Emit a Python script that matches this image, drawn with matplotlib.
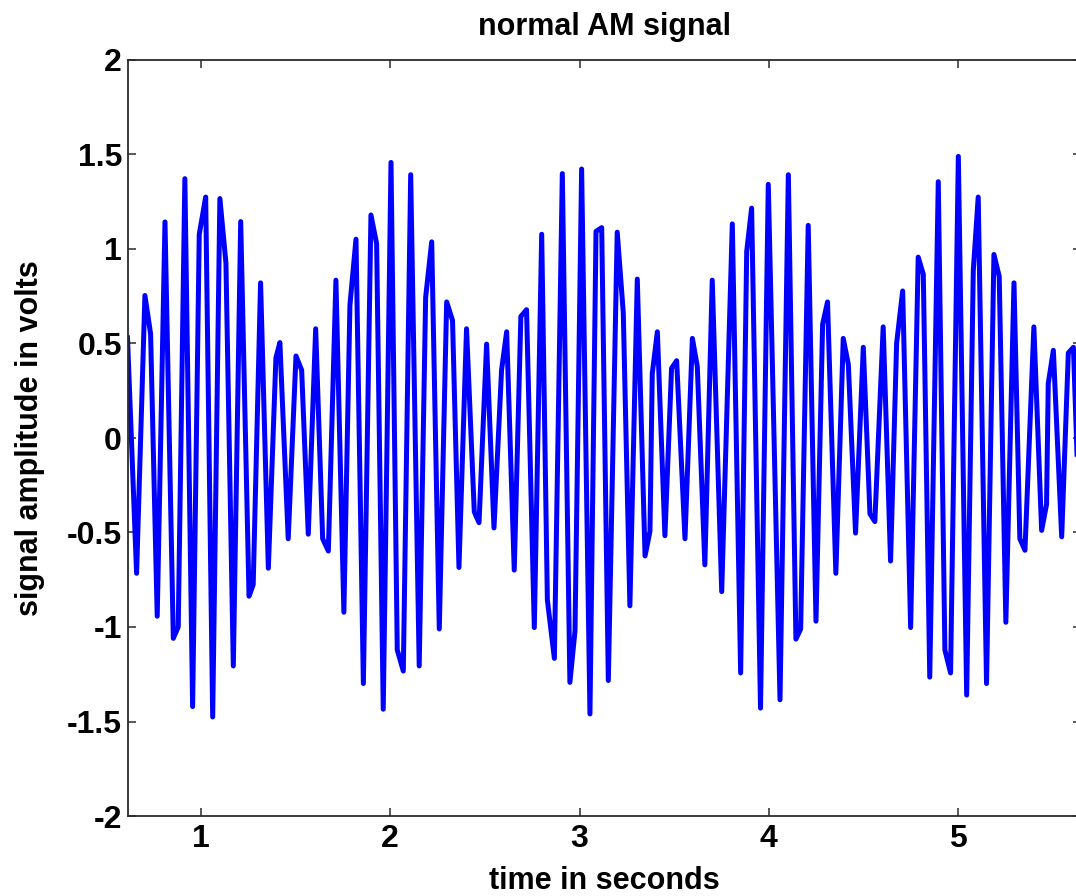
import matplotlib
matplotlib.use("Agg")
import matplotlib.pyplot as plt
import numpy as np

# Vertices of the plotted AM waveform (time in s, amplitude in V)
time_s = [
    0.612, 0.660, 0.704, 0.734, 0.769, 0.810, 0.854, 0.880, 0.915, 0.956,
    0.991, 1.025, 1.062, 1.100, 1.132, 1.171, 1.210, 1.254, 1.276, 1.315,
    1.356, 1.396, 1.417, 1.461, 1.502, 1.532, 1.567, 1.606, 1.643, 1.673,
    1.713, 1.755, 1.787, 1.819, 1.858, 1.898, 1.928, 1.963, 2.004, 2.037,
    2.069, 2.108, 2.153, 2.187, 2.219, 2.259, 2.298, 2.329, 2.363, 2.403,
    2.444, 2.469, 2.509, 2.548, 2.588, 2.615, 2.655, 2.690, 2.720, 2.761,
    2.800, 2.830, 2.867, 2.909, 2.949, 2.976, 3.011, 3.055, 3.087, 3.117,
    3.152, 3.199, 3.231, 3.266, 3.305, 3.346, 3.372, 3.384, 3.411, 3.451,
    3.486, 3.513, 3.557, 3.596, 3.622, 3.662, 3.701, 3.751, 3.807, 3.851,
    3.883, 3.909, 3.956, 3.997, 4.059, 4.103, 4.143, 4.168, 4.208, 4.249,
    4.284, 4.310, 4.354, 4.393, 4.420, 4.458, 4.499, 4.534, 4.560, 4.604,
    4.643, 4.675, 4.707, 4.749, 4.789, 4.816, 4.850, 4.895, 4.930, 4.960,
    5.001, 5.045, 5.080, 5.106, 5.150, 5.189, 5.217, 5.252, 5.295, 5.326,
    5.353, 5.400, 5.441, 5.467, 5.476, 5.503, 5.547, 5.582, 5.609, 5.640,
]
amplitude_v = [
    0.530, -0.716, 0.754, 0.551, -0.943, 1.143, -1.060, -0.999, 1.372, -1.421,
    1.078, 1.275, -1.476, 1.267, 0.926, -1.206, 1.145, -0.837, -0.776, 0.821,
    -0.689, 0.424, 0.505, -0.533, 0.434, 0.359, -0.509, 0.578, -0.533, -0.598,
    0.835, -0.922, 0.703, 1.052, -1.299, 1.180, 1.028, -1.435, 1.458, -1.121,
    -1.233, 1.393, -1.206, 0.744, 1.038, -1.010, 0.720, 0.622, -0.685, 0.578,
    -0.391, -0.448, 0.497, -0.476, 0.359, 0.562, -0.699, 0.643, 0.679, -1.003,
    1.078, -0.857, -1.166, 1.399, -1.293, -1.020, 1.423, -1.460, 1.093, 1.113,
    -1.283, 1.089, 0.663, -0.888, 0.841, -0.624, -0.493, 0.339, 0.562, -0.517,
    0.369, 0.409, -0.533, 0.527, 0.379, -0.671, 0.835, -0.813, 1.133, -1.243,
    0.987, 1.216, -1.429, 1.342, -1.385, 1.393, -1.064, -1.010, 1.125, -0.969,
    0.602, 0.720, -0.716, 0.527, 0.389, -0.503, 0.480, -0.401, -0.442, 0.588,
    -0.651, 0.501, 0.778, -1.003, 0.957, 0.866, -1.265, 1.356, -1.121, -1.243,
    1.490, -1.360, 0.886, 1.275, -1.299, 0.971, 0.855, -0.975, 0.821, -0.533,
    -0.594, 0.588, -0.489, -0.351, 0.288, 0.464, -0.523, 0.450, 0.480, -0.450,
]

x_ticks = [1, 2, 3, 4, 5]
y_ticks = [-2, -1.5, -1, -0.5, 0, 0.5, 1, 1.5, 2]
y_tick_labels = ["-2", "-1.5", "-1", "-0.5", "0", "0.5", "1", "1.5", "2"]

plt.rcParams['font.family'] = ['Liberation Sans', 'DejaVu Sans']
plt.rcParams['font.weight'] = 'bold'

W, H = 1076, 896
fig = plt.figure(figsize=(W / 100, H / 100), dpi=100)
left_px, right_px, top_px, bottom_px = 127.5, 1081, 60, 816
ax = fig.add_axes([left_px / W, 1 - bottom_px / H,
                   (right_px - left_px) / W, (bottom_px - top_px) / H])

ax.plot(time_s, amplitude_v, color=(0, 0, 1), lw=3.6, solid_joinstyle='round')

ax.set_xlim(0.612, 5.649)
ax.set_ylim(-2, 2)
ax.set_xticks(x_ticks)
ax.set_xticklabels([str(v) for v in x_ticks])
ax.set_yticks(y_ticks)
ax.set_yticklabels(y_tick_labels)

spine_col = '#2b2b2b'
for s in ax.spines.values():
    s.set_color(spine_col)
    s.set_linewidth(1.3)

ax.tick_params(direction='in', length=6, width=1.1, color=spine_col,
               top=True, right=True, labelsize=23, pad=6)
ax.tick_params(axis='y', pad=4)
for lab in ax.get_xticklabels() + ax.get_yticklabels():
    lab.set_fontweight('bold')

ax.set_title("normal AM signal", fontsize=22, fontweight='bold', pad=18)
ax.set_xlabel("time in seconds", fontsize=22, fontweight='bold')
ax.set_ylabel("signal amplitude in volts", fontsize=22, fontweight='bold')
ax.xaxis.set_label_coords(0.5, -0.066)
ax.yaxis.set_label_coords(-0.087, 0.5)

fig.savefig("out.png", dpi=100)
